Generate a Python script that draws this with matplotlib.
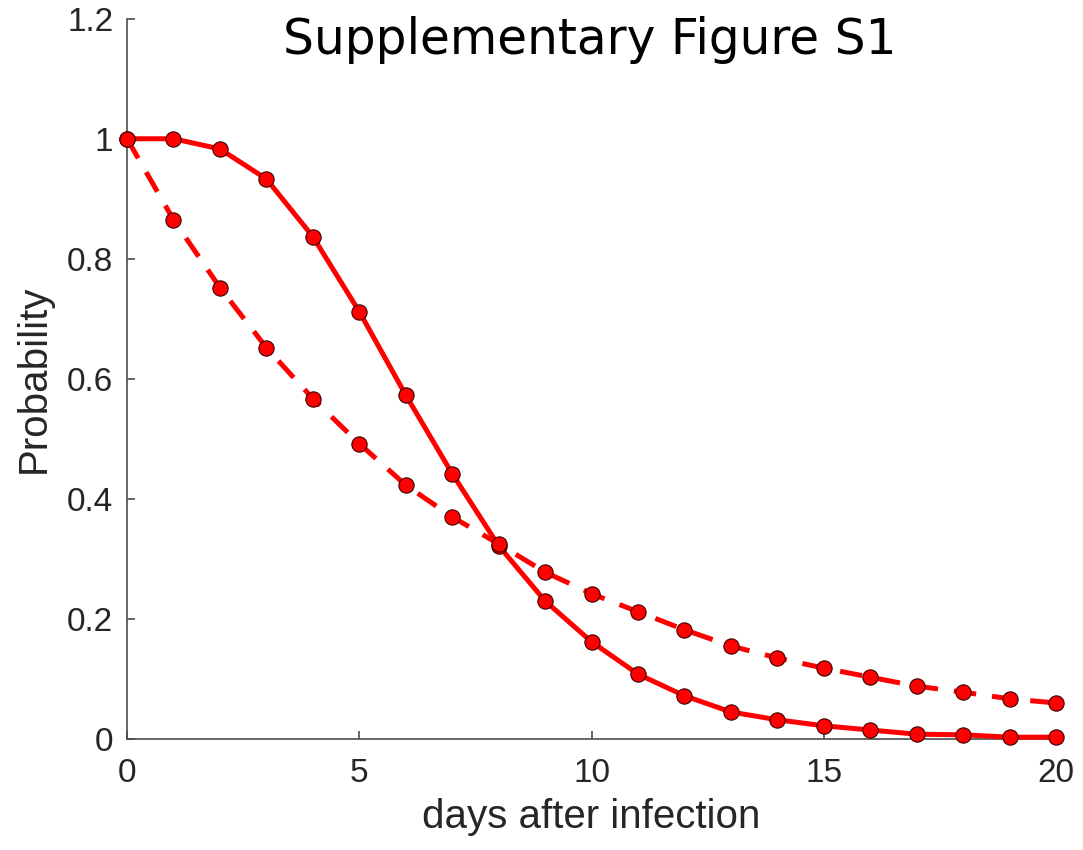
import numpy as np
import matplotlib.pyplot as plt

days = np.arange(0, 21)

# probability curves
solid_prob = [1.0, 1.0, 0.983, 0.933, 0.837, 0.712, 0.573, 0.442, 0.322, 0.23,
              0.162, 0.108, 0.072, 0.045, 0.032, 0.022, 0.015, 0.008, 0.007, 0.003, 0.003]
dashed_prob = [1.0, 0.865, 0.752, 0.652, 0.567, 0.492, 0.423, 0.37, 0.325, 0.278,
               0.242, 0.212, 0.182, 0.155, 0.135, 0.118, 0.103, 0.088, 0.078, 0.067, 0.06]

plt.rcParams['font.family'] = ['Liberation Sans', 'DejaVu Sans']

fig = plt.figure(figsize=(10.83, 8.5), dpi=100)
ax = fig.add_axes([0.1173, 0.1306, 0.8578, 0.8474])

ax.plot(days, solid_prob, color='red', linestyle='-', linewidth=3.6,
        marker='o', markersize=11, markerfacecolor='red', markeredgecolor='#3a0000',
        markeredgewidth=0.8, clip_on=False, zorder=3)
ax.plot(days, dashed_prob, color='red', linestyle=(0, (4.5, 3.2)), linewidth=3.6,
        marker='o', markersize=11, markerfacecolor='red', markeredgecolor='#3a0000',
        markeredgewidth=0.8, clip_on=False, zorder=3)

ax.set_xlim(0, 20)
ax.set_ylim(0, 1.2)
ax.set_xticks([0, 5, 10, 15, 20])
ax.set_yticks([0, 0.2, 0.4, 0.6, 0.8, 1.0, 1.2])
ax.set_yticklabels(['0', '0.2', '0.4', '0.6', '0.8', '1', '1.2'])

for s in ['top', 'right']:
    ax.spines[s].set_visible(False)
for s in ['left', 'bottom']:
    ax.spines[s].set_color('#4d4d4d')
    ax.spines[s].set_linewidth(1.2)

ax.tick_params(direction='in', length=6, width=1.2, color='#4d4d4d',
               labelsize=24, labelcolor='#262626')
ax.tick_params(axis='x', pad=14)
ax.tick_params(axis='y', pad=10)

ax.set_xlabel('days after infection', fontsize=29, color='#262626', labelpad=6)
ax.set_ylabel('Probability', fontsize=29, color='#262626', labelpad=10)

fig.text(0.545, 0.953, 'Supplementary Figure S1', fontsize=35, family='DejaVu Sans',
         ha='center', va='center', color='black')

fig.savefig('out.png', dpi=100, facecolor='white')
